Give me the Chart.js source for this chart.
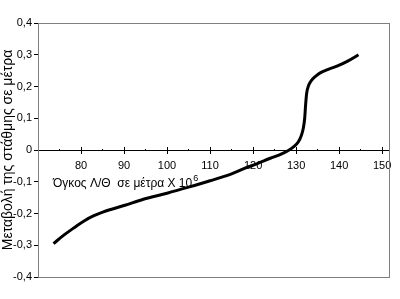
<!DOCTYPE html>
<html>
<head>
<meta charset="utf-8">
<script src="https://cdn.jsdelivr.net/npm/chart.js@4/dist/chart.umd.min.js"></script>
<style>
  html, body { margin: 0; padding: 0; background: #fff; }
  #wrap { width: 400px; height: 299px; }
</style>
</head>
<body>
<div id="wrap"><canvas id="c"></canvas></div>
<script>
/** Data **/

// volume (x 10^6 m3)
const volume = [73.6, 76, 78.6, 80.9, 83, 85.2, 90.2, 94.5, 100, 105, 110, 115, 118, 121, 124, 126, 128,
                129.4, 130.5, 131.2, 131.7, 132.0, 132.2, 132.45, 132.9, 133.5, 134.5, 135.6, 137.5, 139.5, 142, 144.5];
// level change (m)
const level = [-0.295, -0.268, -0.243, -0.222, -0.207, -0.195, -0.174, -0.155, -0.136, -0.117, -0.097, -0.075, -0.058, -0.043, -0.026, -0.016, -0.003,
               0.01, 0.025, 0.045, 0.07, 0.1, 0.14, 0.178, 0.203, 0.218, 0.232, 0.243, 0.254, 0.264, 0.28, 0.3];

// tick values
const x_major = [70, 80, 90, 100, 110, 120, 130, 140, 150];
const x_minor = [75, 85, 95, 105, 115, 125, 135, 145];

const y_title = "Μεταβολή της στάθμης σε μέτρα";
const x_name = "Όγκος Λ/Θ  σε μέτρα Χ 10";
const x_name_exp = "6";

/** Styles **/
const font_family = "'Liberation Sans', Arial, sans-serif";
const frame_color = "#7f7f7f";

function set_ticks(values) {
    return function (scale) {
        scale.ticks = values.map(function (v) { return { value: v }; });
    };
}

// gray frame round the plot area
const frame_plugin = {
    id: 'frame',
    beforeDatasetsDraw(chart) {
        const a = chart.chartArea;
        const ctx = chart.ctx;
        ctx.save();
        ctx.strokeStyle = frame_color;
        ctx.lineWidth = 1;
        ctx.strokeRect(a.left + 0.5, a.top + 0.5, a.right - a.left, a.bottom - a.top);
        ctx.restore();
    }
};

// axis name written inside the plot, with the exponent
const x_name_plugin = {
    id: 'xname',
    afterDraw(chart) {
        const ctx = chart.ctx;
        const y0 = chart.scales.y.getPixelForValue(0);
        ctx.save();
        ctx.fillStyle = "#000";
        ctx.textBaseline = 'alphabetic';
        ctx.font = "12px " + font_family;
        const x0 = chart.chartArea.left + 15;
        ctx.fillText(x_name, x0, y0 + 37);
        const w = ctx.measureText(x_name).width;
        ctx.font = "9px " + font_family;
        ctx.fillText(x_name_exp, x0 + w + 1, y0 + 31);
        ctx.restore();
    }
};

new Chart(document.getElementById('c'), {
    type: 'line',
    data: {
        datasets: [{
            data: volume.map(function (v, i) { return { x: v, y: level[i] }; }),
            borderColor: '#000',
            borderWidth: 3,
            pointRadius: 0,
            fill: false,
            cubicInterpolationMode: 'monotone'
        }]
    },
    options: {
        responsive: true,
        maintainAspectRatio: false,
        animation: false,
        layout: { padding: { top: 23, bottom: 22, right: 11, left: 0 } },
        plugins: { legend: { display: false }, tooltip: { enabled: false } },
        scales: {
            x: {
                type: 'linear',
                position: { y: 0 },
                min: 70,
                max: 151.6,
                afterBuildTicks: set_ticks(x_major),
                border: { display: true, color: '#000', width: 1 },
                grid: { drawOnChartArea: false, tickLength: 3, color: '#000' },
                ticks: {
                    padding: 6,
                    color: '#000',
                    font: { family: font_family, size: 11 },
                    callback: function (v) { return v === 70 ? '' : String(v); }
                }
            },
            x_up: {
                type: 'linear',
                position: { y: 0.0095 },
                min: 70,
                max: 151.6,
                afterBuildTicks: set_ticks(x_major),
                border: { display: false },
                grid: { drawOnChartArea: false, tickLength: 3, color: '#000' },
                ticks: { display: false }
            },
            x_minor: {
                type: 'linear',
                position: { y: 0.003 },
                min: 70,
                max: 151.6,
                afterBuildTicks: set_ticks(x_minor),
                border: { display: false },
                grid: { drawOnChartArea: false, tickLength: 2, color: '#000' },
                ticks: { display: false }
            },
            y: {
                type: 'linear',
                min: -0.4,
                max: 0.4,
                afterFit: function (scale) { scale.width = 38; },
                border: { display: true, color: '#000', width: 1 },
                grid: { drawOnChartArea: false, tickLength: 4, color: '#000' },
                ticks: {
                    stepSize: 0.1,
                    padding: 2,
                    color: '#000',
                    font: { family: font_family, size: 11 },
                    callback: function (v) {
                        const r = Math.round(v * 10) / 10;
                        return r === 0 ? '0' : r.toFixed(1).replace('.', ',');
                    }
                },
                title: {
                    display: true,
                    text: y_title,
                    color: '#000',
                    font: { family: font_family, size: 14 },
                    padding: { top: 0, bottom: 0 }
                }
            }
        }
    },
    plugins: [frame_plugin, x_name_plugin]
});
</script>
</body>
</html>
